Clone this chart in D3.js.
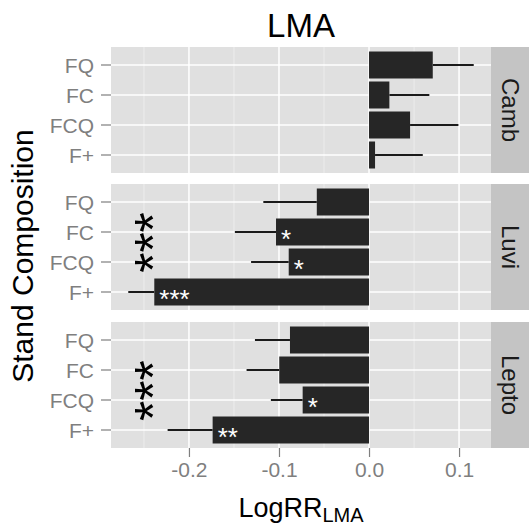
<!DOCTYPE html>
<html>
<head>
<meta charset="utf-8">
<script src="https://cdn.jsdelivr.net/npm/d3@7"></script>
<style>
  body { margin: 0; background: #fff; }
  svg { display: block; font-family: "Liberation Sans", Arial, sans-serif; }
</style>
</head>
<body>
<div id="chart"></div>
<script>
// facets and categories
const soils = ["Camb", "Luvi", "Lepto"];
const comps = ["FQ", "FC", "FCQ", "F+"];

// mean log response ratio per composition (FQ, FC, FCQ, F+)
const meanCamb = [0.0708, 0.0226, 0.0456, 0.0067];
const meanLuvi = [-0.058, -0.1033, -0.0892, -0.2385];
const meanLepto = [-0.0878, -0.0997, -0.0737, -0.1737];

// far end of the error bar
const errCamb = [0.1163, 0.067, 0.0993, 0.0597];
const errLuvi = [-0.1174, -0.149, -0.131, -0.2674];
const errLepto = [-0.1267, -0.136, -0.109, -0.2237];

// significance labels inside bars
const sigCamb = ["", "", "", ""];
const sigLuvi = ["", "*", "*", "***"];
const sigLepto = ["", "", "*", "**"];

// big vertical stars on the left (soil, x value, position in category units)
const starSoils = ["Luvi", "Lepto"];
const starX = [-0.254, -0.254];
const starPos = [2.35, 2.69];

const xTicks = [-0.2, -0.1, 0.0, 0.1];

const means = { Camb: meanCamb, Luvi: meanLuvi, Lepto: meanLepto };
const errs = { Camb: errCamb, Luvi: errLuvi, Lepto: errLepto };
const sigs = { Camb: sigCamb, Luvi: sigLuvi, Lepto: sigLepto };

const rows = [];
soils.forEach(s => comps.forEach((c, i) => rows.push({
  soil: s, comp: c, mean: means[s][i], err: errs[s][i], sig: sigs[s][i]
})));

const W = 529, H = 531;
const left = 111, right = 491, stripW = 38;
const panelTops = [47, 184, 322], panelH = 126;

const svg = d3.select("#chart").append("svg")
  .attr("width", W).attr("height", H);

// x scale, data range expanded by 5% like ggplot
const ext = d3.extent(rows.flatMap(d => [d.mean, d.err, 0]));
const pad = (ext[1] - ext[0]) * 0.05;
const x = d3.scaleLinear().domain([ext[0] - pad, ext[1] + pad]).range([left, right]);
const minor = d3.range(-0.25, 0.16, 0.1).filter(v => v > x.domain()[0] && v < x.domain()[1]);

soils.forEach((soil, si) => {
  const top = panelTops[si];
  const y = d3.scalePoint().domain(comps).range([top, top + panelH]).padding(0.6);
  const step = y.step();
  const g = svg.append("g");

  g.append("rect").attr("x", left).attr("y", top)
    .attr("width", right - left).attr("height", panelH).attr("fill", "#e0e0e0");

  g.selectAll(".minor").data(minor).join("line")
    .attr("x1", d => x(d)).attr("x2", d => x(d))
    .attr("y1", top).attr("y2", top + panelH)
    .attr("stroke", "#f0f0f0").attr("stroke-width", 0.8);

  g.selectAll(".majx").data(xTicks).join("line")
    .attr("x1", d => x(d)).attr("x2", d => x(d))
    .attr("y1", top).attr("y2", top + panelH)
    .attr("stroke", "#fff").attr("stroke-width", 1.5);

  g.selectAll(".majy").data(comps).join("line")
    .attr("x1", left).attr("x2", right)
    .attr("y1", d => y(d)).attr("y2", d => y(d))
    .attr("stroke", "#fff").attr("stroke-width", 1.5);

  const data = rows.filter(d => d.soil === soil);

  g.selectAll(".err").data(data).join("line")
    .attr("x1", d => x(d.mean)).attr("x2", d => x(d.err))
    .attr("y1", d => y(d.comp)).attr("y2", d => y(d.comp))
    .attr("stroke", "#1a1a1a").attr("stroke-width", 2);

  g.selectAll(".bar").data(data).join("rect")
    .attr("x", d => x(Math.min(0, d.mean)))
    .attr("width", d => Math.abs(x(d.mean) - x(0)))
    .attr("y", d => y(d.comp) - step * 0.45)
    .attr("height", step * 0.9)
    .attr("fill", "#262626");

  g.selectAll(".sig").data(data.filter(d => d.sig)).join("text")
    .attr("x", d => x(d.mean) + 5)
    .attr("y", d => y(d.comp))
    .attr("dy", "0.6em")
    .attr("font-size", 26).attr("fill", "#fff")
    .text(d => d.sig);

  // y axis ticks and labels
  g.selectAll(".yt").data(comps).join("line")
    .attr("x1", left - 10).attr("x2", left)
    .attr("y1", d => y(d)).attr("y2", d => y(d))
    .attr("stroke", "#7f7f7f").attr("stroke-width", 1.2);
  g.selectAll(".yl").data(comps).join("text")
    .attr("x", left - 17).attr("y", d => y(d))
    .attr("dy", "0.36em").attr("text-anchor", "end")
    .attr("font-size", 21).attr("fill", "#7f7f7f")
    .text(d => d);

  // big stars
  const pos = d3.scaleLinear().domain([1, 2]).range([y(comps[0]), y(comps[1])]);
  starSoils.forEach((s, k) => {
    if (s !== soil) return;
    g.append("text")
      .attr("transform", `translate(${x(starX[k])},${pos(starPos[k])}) rotate(-90)`)
      .attr("text-anchor", "middle").attr("dy", "0.59em")
      .attr("font-size", 52).attr("fill", "#000")
      .text("***");
  });

  // strip
  g.append("rect").attr("x", right).attr("y", top)
    .attr("width", stripW).attr("height", panelH).attr("fill", "#c4c4c4");
  g.append("text")
    .attr("transform", `translate(${right + stripW / 2},${top + panelH / 2}) rotate(90)`)
    .attr("text-anchor", "middle").attr("dy", "0.35em")
    .attr("font-size", 24).attr("fill", "#1a1a1a")
    .text(soil);
});

// x axis
const bottom = panelTops[2] + panelH;
const xAxis = d3.axisBottom(x).tickValues(xTicks).tickSize(9).tickPadding(5)
  .tickFormat(d3.format(".1f"));
const ax = svg.append("g").attr("transform", `translate(0,${bottom})`).call(xAxis);
ax.select(".domain").remove();
ax.selectAll(".tick line").attr("stroke", "#7f7f7f").attr("stroke-width", 1.2);
ax.selectAll(".tick text").attr("font-size", 21).attr("fill", "#7f7f7f")
  .attr("font-family", "Liberation Sans, Arial, sans-serif")
  .text(d => d3.format(".1f")(d).replace("−", "-"));

// titles
svg.append("text").attr("x", (left + right) / 2).attr("y", 37)
  .attr("text-anchor", "middle").attr("font-size", 33).text("LMA");

const xt = svg.append("text").attr("x", (left + right) / 2).attr("y", 517)
  .attr("text-anchor", "middle").attr("font-size", 27);
xt.append("tspan").text("LogRR");
xt.append("tspan").attr("font-size", 20).attr("dy", 5).text("LMA");

svg.append("text")
  .attr("transform", `translate(33,256) rotate(-90)`)
  .attr("text-anchor", "middle").attr("font-size", 30).text("Stand Composition");
</script>
</body>
</html>
